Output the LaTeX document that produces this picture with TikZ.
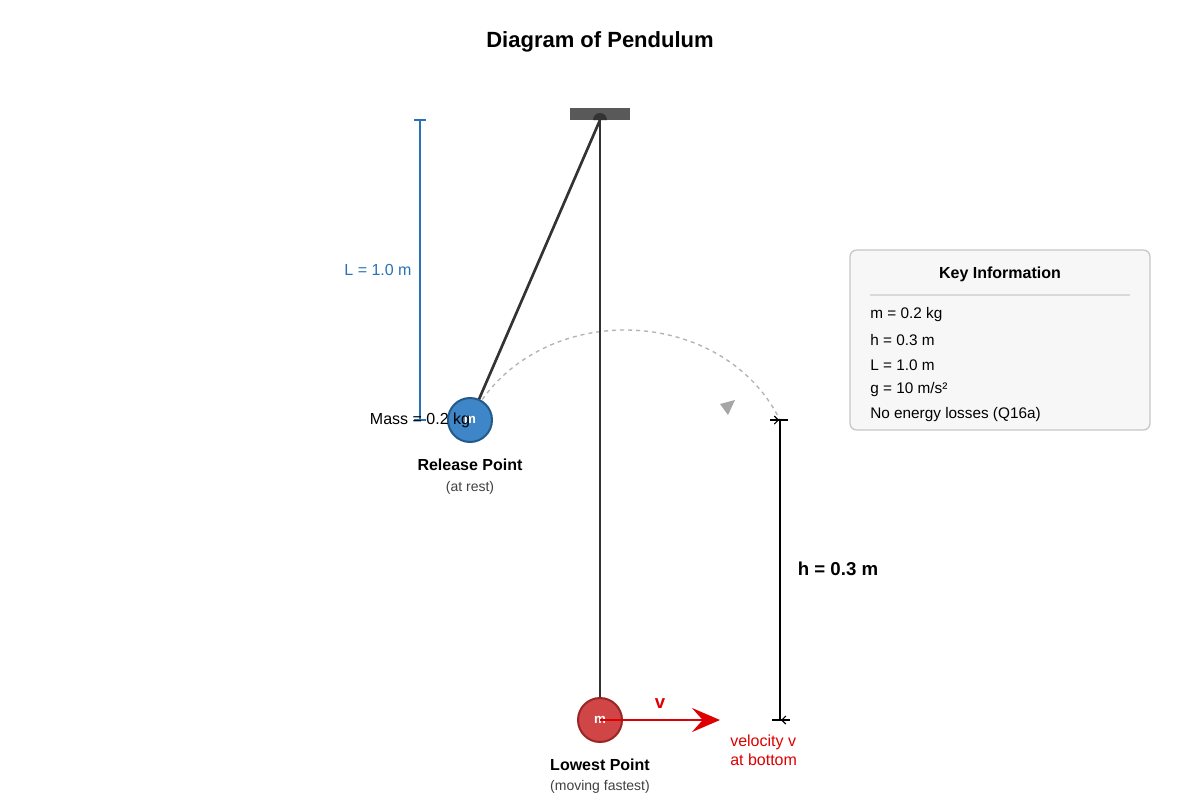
\documentclass[tikz,border=0pt]{standalone}
\usepackage{fontspec}
\setmainfont{Liberation Sans}
\usetikzlibrary{arrows.meta}
\definecolor{bluem}{HTML}{3F86C8}
\definecolor{blueb}{HTML}{235A8C}
\definecolor{redm}{HTML}{D04545}
\definecolor{redb}{HTML}{9B2525}
\definecolor{dimblue}{HTML}{2A72B5}
\definecolor{vred}{HTML}{DD0000}
\begin{document}
\begin{tikzpicture}[x=0.75pt,y=-0.75pt,
  lbl/.style={font=\fontsize{12}{14}\selectfont, inner sep=0pt},
  bold/.style={font=\fontsize{12}{14}\selectfont\bfseries, inner sep=0pt},
  small/.style={font=\fontsize{10.5}{12}\selectfont, text=black!75, inner sep=0pt},
  mass/.style={circle, minimum size=44*0.75pt, inner sep=0pt, line width=1.5pt, text=white, font=\fontsize{10}{10}\selectfont\bfseries}]
\useasboundingbox (0,0) rectangle (1200,800);
\node[font=\fontsize{16.5}{18}\selectfont\bfseries] (title) at (600,42) {Diagram of Pendulum};
% support
\fill[black!65] (570,108) rectangle (630,120);
\coordinate (pivot) at (600,120);
\fill[black!80] (593,120) arc (180:360:7) -- cycle;
% dashed arc
\coordinate (rel) at (470,420);
\coordinate (arcend) at (780,420);
\draw[black!30, dashed, line width=1pt] (rel) .. controls (530,300) and (720,300) .. (arcend);
\fill[black!35] (720,404) -- (735,400) -- (728,415) -- cycle;
% rods
\draw[black!80, line width=2pt] (pivot) -- (rel);
\draw[black!80, line width=2pt] (pivot) -- (600,720);
% masses
\node[mass, fill=bluem, draw=blueb] (m1) at (rel) {m};
\node[mass, fill=redm, draw=redb] (m2) at (600,720) {m};
% L dimension
\coordinate (la) at (420,120); \coordinate (lb) at (420,420);
\draw[dimblue, line width=1.2pt] (la) -- (lb);
\draw[dimblue, line width=1.2pt] (414,120) -- (426,120) (414,420) -- (426,420);
\node[lbl, text=dimblue] (L) at (378,270) {L = 1.0 m};
\node[lbl] (mlab) at (420,420) {Mass = 0.2 kg};
\node[bold] (rp) at (470,465) {Release Point};
\node[small] (rest) at (470,488) {(at rest)};
% h dimension
\coordinate (ha) at (780,420); \coordinate (hb) at (780,720);
\draw[black, line width=1.2pt] (ha) -- (hb);
\draw[black, line width=1pt] (772,420) -- (788,420) (772,720) -- (788,720);
\draw[-{Straight Barb[length=3pt]}, line width=0.8pt] (770,420) -- (779,420);
\draw[-{Straight Barb[length=3pt]}, line width=0.8pt] (790,720) -- (781,720);
\node[font=\fontsize{14}{16}\selectfont\bfseries, inner sep=0pt] (h) at (838,569) {h = 0.3 m};
% velocity
\coordinate (vend) at (720,720);
\draw[vred, line width=2.2pt, -{Stealth[length=21pt,width=18pt,inset=8pt]}] (m2.center) -- (vend);
\node[font=\fontsize{14}{16}\selectfont\bfseries, text=vred, inner sep=0pt] (v) at (660,704) {v};
\node[lbl, text=vred, anchor=west, align=left] (vl) at (730,750) {velocity v\\at bottom};
\node[bold] (lp) at (600,765) {Lowest Point};
\node[small] (fast) at (600,787) {(moving fastest)};
% key box
\draw[rounded corners=5pt, fill=black!3, draw=black!22, line width=1pt] (850,250) rectangle (1150,430);
\node[bold] (kt) at (1000,274) {Key Information};
\draw[black!15, line width=1pt] (870,295) -- (1130,295);
\foreach \t [count=\i] in {m = 0.2 kg, h = 0.3 m, L = 1.0 m, g = 10 m/s², No energy losses (Q16a)}
  \node[lbl, anchor=west, font=\fontsize{11.5}{13}\selectfont] (k\i) at (870,290+25*\i) {\t};
\end{tikzpicture}
\end{document}
